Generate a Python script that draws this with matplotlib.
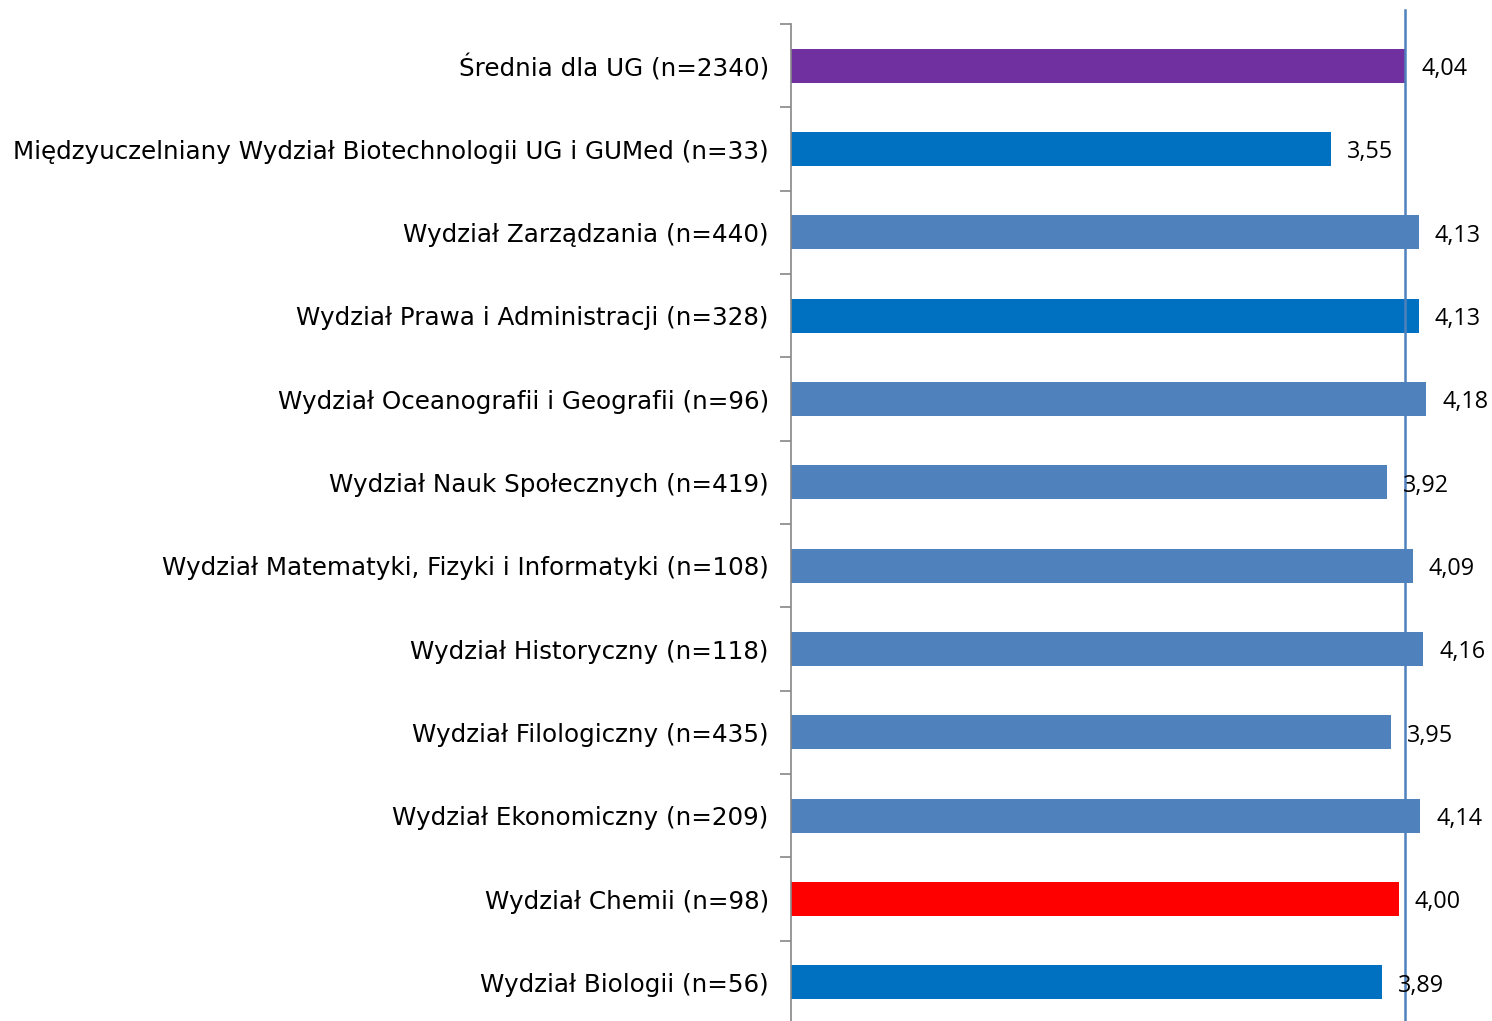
import numpy as np
import matplotlib
matplotlib.use("Agg")
import matplotlib.pyplot as plt

# ---------------- DATA ----------------
labels = [
    "Średnia dla UG (n=2340)",
    "Międzyuczelniany Wydział Biotechnologii UG i GUMed (n=33)",
    "Wydział Zarządzania (n=440)",
    "Wydział Prawa i Administracji (n=328)",
    "Wydział Oceanografii i Geografii (n=96)",
    "Wydział Nauk Społecznych (n=419)",
    "Wydział Matematyki, Fizyki i Informatyki (n=108)",
    "Wydział Historyczny (n=118)",
    "Wydział Filologiczny (n=435)",
    "Wydział Ekonomiczny (n=209)",
    "Wydział Chemii (n=98)",
    "Wydział Biologii (n=56)",
]
values = [4.04, 3.55, 4.13, 4.13, 4.18, 3.92, 4.09, 4.16, 3.95, 4.14, 4.00, 3.89]
colors = ["#7030A0", "#0070C0", "#4F81BD", "#0070C0", "#4F81BD", "#4F81BD",
          "#4F81BD", "#4F81BD", "#4F81BD", "#4F81BD", "#FF0000", "#0070C0"]
mean_ug = 4.04
# --------------------------------------

plt.rcParams['font.family'] = ['DejaVu Sans']

W, H = 1492, 1021
fig = plt.figure(figsize=(W / 100, H / 100), dpi=100)
ax = fig.add_axes([791 / W, 1 - 1024 / H, (W - 791) / W, 1000 / H])

n = len(labels)
y = np.arange(n)
ax.barh(y, values, height=0.41, color=colors)
ax.set_ylim(n - 0.5, -0.5)
ax.set_xlim(0, (W - 791) / 152.0)

ax.set_yticks(y)
ax.set_yticklabels(labels, fontsize=17.75)
ax.tick_params(axis='y', length=0, pad=16)
ax.set_yticks(np.arange(n + 1) - 0.5, minor=True)
ax.tick_params(axis='y', which='minor', length=8, color='#868686', width=1.2)
ax.set_xticks([])

for s in ['top', 'right', 'bottom']:
    ax.spines[s].set_visible(False)
ax.spines['left'].set_color('#868686')
ax.spines['left'].set_linewidth(1.2)

# value labels
for yi, v in zip(y, values):
    ax.text(v + 0.105, yi + 0.04, f"{v:.2f}".replace(".", ","), va='center',
            ha='left', fontsize=16.8, family=['Open Sans', 'DejaVu Sans'])

# UG mean line
ax.axvline(mean_ug, ymin=0, ymax=1.014, color='#4F81BD', lw=1.8, clip_on=False)

fig.savefig("out.png", dpi=100)
